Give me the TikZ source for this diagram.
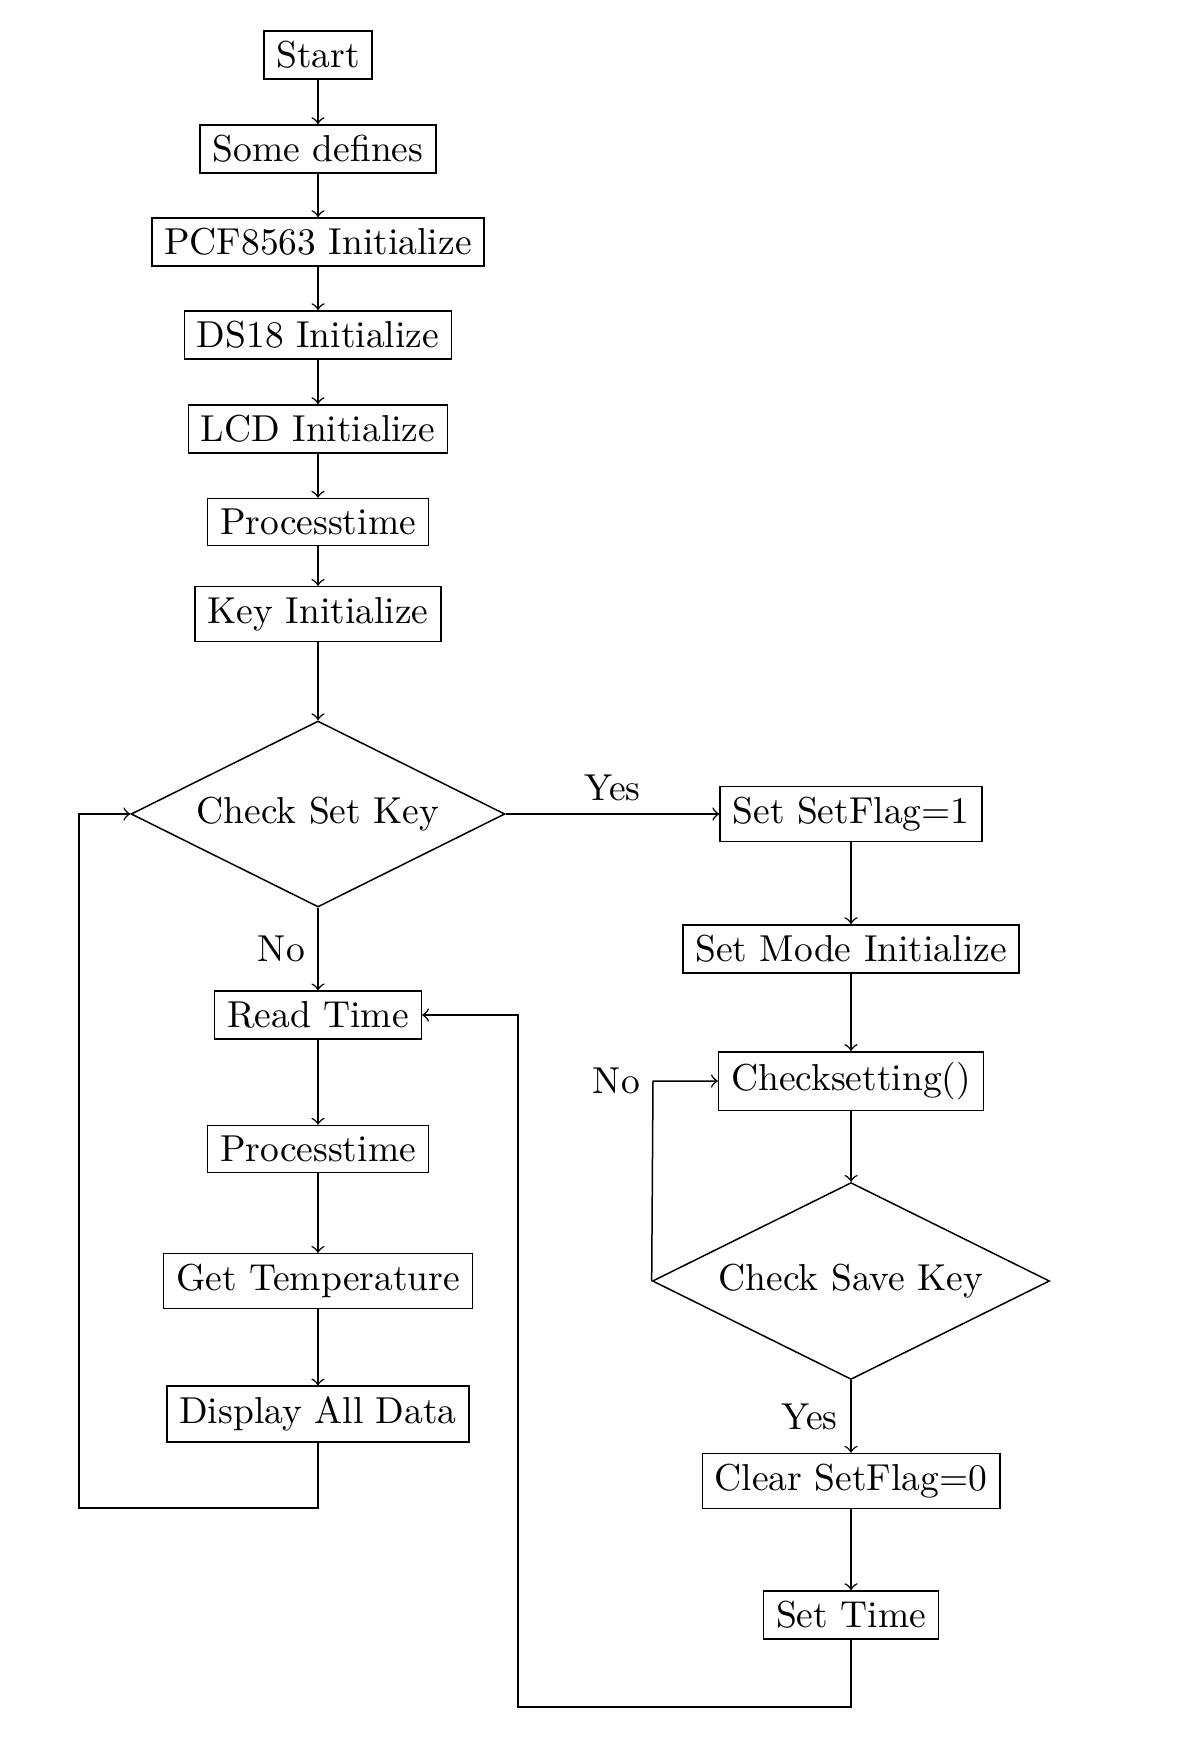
\documentclass[tikz,border=0pt]{standalone}
\usetikzlibrary{shapes.geometric,arrows}
\begin{document}
\begin{tikzpicture}[x=0.26667pt,y=-0.26667pt,
  box/.style={draw,rectangle,inner xsep=3.33pt,inner ysep=2.8pt},
  dec/.style={draw,diamond,inner sep=0pt,aspect=2},
  arr/.style={->},
  every node/.style={font=\normalsize}]
\useasboundingbox (0,0) rectangle (1182,1742);
% left column
\node[box] (start) at (318,55) {Start};
\node[box] (defines) at (318,149) {Some defines};
\node[box] (pcf) at (318,242) {PCF8563 Initialize};
\node[box] (ds18) at (318,335) {DS18 Initialize};
\node[box] (lcd) at (318,429) {LCD Initialize};
\node[box] (proc1) at (318,522) {Processtime};
\node[box] (key) at (318,614) {Key Initialize};
\node[dec,minimum width=99.7pt,minimum height=49.6pt] (chkset) at (318,814) {Check Set Key};
\node[box] (read) at (318,1015) {Read Time};
\node[box] (proc2) at (318,1149) {Processtime};
\node[box] (temp) at (318,1281) {Get Temperature};
\node[box] (disp) at (318,1414) {Display All Data};
% right column
\node[box] (setflag) at (851,814) {Set SetFlag=1};
\node[box] (setmode) at (851,949) {Set Mode Initialize};
\node[box] (chksetting) at (851,1081) {Checksetting()};
\node[dec,minimum width=105.9pt,minimum height=52.5pt] (chksave) at (851,1281) {Check Save Key};
\node[box] (clear) at (851,1481) {Clear SetFlag=0};
\node[box] (settime) at (851,1615) {Set Time};
% corner coordinates
\coordinate (lb) at (79,1508);
\coordinate (lt) at (79,814);
\coordinate (rb) at (518,1707);
\coordinate (rt) at (518,1015);
\coordinate (nc) at (653,1081);
% connectors
\draw[arr] (start) -- (defines);
\draw[arr] (defines) -- (pcf);
\draw[arr] (pcf) -- (ds18);
\draw[arr] (ds18) -- (lcd);
\draw[arr] (lcd) -- (proc1);
\draw[arr] (proc1) -- (key);
\draw[arr] (key) -- (chkset);
\draw[arr] (chkset.east) -- node[above] {Yes} (setflag.west);
\draw[arr] (chkset.south) -- node[left] {No} (read.north);
\draw[arr] (read) -- (proc2);
\draw[arr] (proc2) -- (temp);
\draw[arr] (temp) -- (disp);
\draw[arr] (disp.south) -- (disp.south |- lb) -- (lb) -- (lt) -- (chkset.west);
\draw[arr] (setflag) -- (setmode);
\draw[arr] (setmode) -- (chksetting);
\draw[arr] (chksetting) -- (chksave);
\draw[arr] (chksave.west) -- (nc) node[left] {No} -- (chksetting.west);
\draw[arr] (chksave.south) -- node[left] {Yes} (clear.north);
\draw[arr] (clear) -- (settime);
\draw[arr] (settime.south) -- (settime.south |- rb) -- (rb) -- (rt) -- (read.east);
\end{tikzpicture}
\end{document}
